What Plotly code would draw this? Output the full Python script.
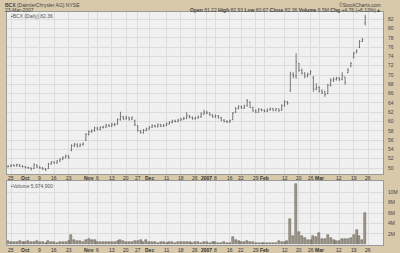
import plotly.graph_objects as go

# ---------------- data (trading-day index: Sep 22 2006 = -1 ... Mar 23 2007 = 123)
day_index = list(range(-1, 124))

opens = [50.3, 50.4, 50.6, 50.5, 50.7, 50.4, 50.3, 50.1, 50.0, 49.9,
         50.6, 50.2, 50.0, 49.8, 49.9, 50.9, 51.3, 51.1, 51.5, 51.9,
         52.3, 52.6, 53.8, 54.8, 55.1, 54.7, 55.0, 56.0, 57.2, 57.8,
         58.0, 58.6, 58.3, 58.7, 58.8, 59.2, 59.0, 59.4, 59.5, 60.4,
         61.0, 60.6, 60.9, 60.5, 60.2, 59.1, 58.0, 57.6, 58.1, 58.4,
         58.8, 59.1, 58.9, 59.3, 59.0, 59.2, 59.5, 59.8, 60.1, 60.0,
         60.3, 60.5, 60.7, 61.2, 60.9, 60.6, 60.8, 61.0, 61.6, 62.0,
         61.8, 61.4, 61.0, 61.2, 60.8, 60.3, 60.0, 59.9, 60.4, 62.0,
         62.8, 63.2, 62.9, 63.4, 64.2, 63.0, 62.3, 62.0, 62.6, 62.4,
         62.2, 62.5, 62.8, 62.4, 62.7, 62.5, 63.4, 64.2, 66.6, 70.2,
         69.8, 72.5, 71.0, 70.4, 69.8, 70.2, 69.4, 67.0, 67.3, 66.6,
         66.4, 66.0, 67.8, 68.9, 69.1, 69.3, 69.0, 69.6, 70.5, 71.8,
         73.7, 74.8, 75.9, 77.2, 81.22]
highs = [50.6, 50.8, 50.8, 50.9, 50.8, 50.6, 50.4, 50.3, 50.1, 51.0,
         50.8, 50.4, 50.2, 50.0, 51.1, 51.5, 51.4, 51.7, 52.1, 52.5,
         52.9, 52.8, 55.1, 55.4, 55.3, 55.3, 55.5, 57.5, 58.1, 58.3,
         58.9, 58.8, 59.0, 59.1, 59.5, 59.4, 59.7, 59.7, 60.7, 62.1,
         61.2, 61.2, 61.0, 61.1, 60.4, 59.2, 58.2, 58.4, 58.7, 59.0,
         59.4, 59.3, 59.6, 59.5, 59.5, 59.8, 60.1, 60.4, 60.4, 60.6,
         60.8, 61.0, 62.0, 61.4, 61.1, 61.0, 61.3, 62.0, 62.5, 62.3,
         62.0, 61.6, 61.5, 61.4, 61.0, 60.5, 60.3, 60.4, 62.0, 63.1,
         63.5, 63.4, 63.6, 64.8, 64.3, 63.2, 62.6, 62.9, 62.8, 62.6,
         62.8, 63.0, 62.9, 62.9, 62.8, 63.7, 64.6, 64.4, 70.7, 70.6,
         74.7, 72.6, 71.4, 70.6, 70.5, 71.0, 69.8, 68.2, 67.6, 66.9,
         66.6, 68.1, 69.3, 69.5, 69.6, 69.6, 70.6, 69.6, 71.5, 72.8,
         75.0, 75.5, 77.5, 78.0, 82.93]
lows = [50.1, 50.2, 50.3, 50.3, 50.2, 50.1, 49.9, 49.8, 49.5, 49.8,
        50.0, 49.8, 49.6, 49.4, 49.8, 50.7, 50.9, 50.9, 51.3, 51.7,
        52.1, 52.0, 53.6, 54.5, 54.4, 54.5, 54.8, 55.8, 57.0, 57.6,
        57.8, 58.1, 58.1, 58.5, 58.6, 58.8, 58.8, 59.0, 59.3, 60.2,
        60.3, 60.4, 60.2, 60.3, 59.0, 57.8, 57.4, 57.4, 57.9, 58.2,
        58.6, 58.7, 58.7, 58.8, 58.8, 59.0, 59.3, 59.6, 59.8, 59.8,
        60.1, 60.3, 60.5, 60.7, 60.4, 60.4, 60.6, 60.8, 61.4, 61.6,
        61.2, 60.8, 60.8, 60.6, 60.1, 59.8, 59.7, 59.7, 60.3, 61.8,
        62.6, 62.7, 62.7, 63.2, 62.9, 62.1, 61.8, 61.9, 62.2, 62.0,
        62.0, 62.3, 62.2, 62.2, 62.1, 62.3, 63.2, 63.6, 66.4, 69.3,
        69.2, 70.7, 70.1, 69.3, 69.5, 70.0, 66.4, 66.7, 66.2, 65.9,
        65.3, 65.9, 67.5, 68.5, 68.8, 68.7, 68.9, 67.9, 70.4, 71.7,
        73.6, 74.7, 75.8, 77.1, 80.67]
closes = [50.4, 50.6, 50.5, 50.7, 50.4, 50.3, 50.1, 50.0, 49.8, 50.7,
          50.2, 50.0, 49.8, 49.6, 50.9, 51.3, 51.1, 51.5, 51.9, 52.3,
          52.6, 52.2, 54.8, 55.1, 54.7, 55.0, 55.2, 57.2, 57.8, 58.0,
          58.6, 58.3, 58.7, 58.8, 59.2, 59.0, 59.4, 59.3, 60.4, 61.0,
          60.6, 60.9, 60.5, 60.8, 59.3, 58.0, 57.6, 58.1, 58.4, 58.8,
          59.1, 58.9, 59.3, 59.0, 59.2, 59.5, 59.8, 60.1, 60.0, 60.3,
          60.5, 60.7, 61.2, 60.9, 60.6, 60.8, 61.0, 61.6, 62.0, 61.8,
          61.4, 61.0, 61.2, 60.8, 60.3, 60.0, 59.9, 60.2, 61.8, 62.8,
          63.2, 62.9, 63.3, 64.5, 63.0, 62.3, 62.0, 62.6, 62.4, 62.2,
          62.5, 62.8, 62.4, 62.7, 62.3, 63.4, 64.2, 63.9, 70.2, 69.8,
          72.8, 71.0, 70.4, 69.8, 70.2, 70.7, 67.0, 67.3, 66.6, 66.2,
          65.8, 67.8, 68.9, 69.1, 69.3, 69.0, 69.8, 68.4, 71.0, 72.5,
          74.6, 75.2, 77.2, 77.6, 82.36]
volumes_m = [0.6, 0.5, 0.5, 0.4, 0.6, 0.5, 0.5, 0.6, 0.4, 0.5,
             0.6, 0.5, 0.4, 0.3, 0.7, 0.5, 0.4, 0.3, 0.5, 0.4,
             0.5, 0.6, 1.8, 0.9, 0.6, 0.6, 0.5, 0.9, 1.0, 0.9,
             0.8, 0.5, 0.4, 0.4, 0.5, 0.4, 0.5, 0.4, 0.7, 0.8,
             0.6, 0.5, 0.4, 0.4, 0.6, 0.7, 0.8, 0.5, 0.8, 0.5,
             0.4, 0.4, 0.3, 0.4, 0.4, 0.3, 0.4, 0.4, 0.3, 0.4,
             0.4, 0.4, 0.5, 0.4, 0.3, 0.4, 0.4, 0.3, 0.4, 0.4,
             0.3, 0.5, 0.4, 0.3, 0.3, 0.4, 0.3, 0.3, 1.5, 0.9,
             0.7, 0.4, 0.5, 0.7, 0.5, 0.5, 0.3, 0.2, 0.3, 0.3,
             0.2, 0.3, 0.3, 0.2, 0.7, 0.5, 0.5, 0.6, 4.9, 1.7,
             11.6, 2.3, 1.7, 1.3, 0.9, 0.9, 1.7, 1.5, 2.1, 1.1,
             1.1, 1.9, 1.2, 0.9, 0.6, 0.7, 1.1, 1.1, 1.1, 1.2,
             1.8, 2.7, 1.6, 0.9, 6.0]

date_tick_index = [0, 5, 10, 15, 20, 27, 30, 35, 40, 44, 48, 54, 59, 64,
                   68, 71, 76, 80, 85, 88, 95, 100, 104, 107, 114, 119, 124]
date_tick_text = ["25", "Oct", "9", "16", "23", "Nov", "6", "13", "20", "27",
                  "Dec", "11", "18", "26", "2007", "8", "16", "22", "29", "Feb",
                  "12", "20", "26", "Mar", "12", "19", "26"]
bold_ticks = {"Oct", "Nov", "Dec", "2007", "Feb", "Mar"}

price_ticks = list(range(50, 84, 2))
vol_ticks = [2, 4, 6, 8, 10]
vol_tick_text = ["2M", "4M", "6M", "8M", "10M"]

# ---------------- style
W, H = 400, 253
TAN = "#d8c9ab"
PANEL = "#f0f0f0"
GRID = "#dcdcdc"
BORDER = "#9a9a9a"
FONT = "Liberation Sans"

def py(px):
    return 1 - px / H

def pxx(px):
    return px / W

x_range = [-1.39, 129.17]

fig = go.Figure()
fig.add_trace(go.Ohlc(
    x=day_index, open=opens, high=highs, low=lows, close=closes,
    increasing=dict(line=dict(color="#5a5a5a", width=0.8)),
    decreasing=dict(line=dict(color="#5a5a5a", width=0.8)),
    tickwidth=0.3, xaxis="x", yaxis="y", showlegend=False, hoverinfo="skip"))
fig.add_trace(go.Bar(
    x=day_index, y=volumes_m, width=0.7,
    marker=dict(color="#a39b8a", line=dict(color="#5a554d", width=0.5)),
    xaxis="x2", yaxis="y2", showlegend=False, hoverinfo="skip"))

axis_common = dict(showline=True, linecolor=BORDER, linewidth=1, mirror=True,
                   showgrid=True, gridcolor=GRID, gridwidth=1, zeroline=False,
                   ticks="")
fig.update_layout(
    width=W, height=H, margin=dict(l=0, r=0, t=0, b=0),
    paper_bgcolor=TAN, plot_bgcolor=PANEL,
    font=dict(family=FONT, size=5, color="#333333"),
    bargap=0,
    xaxis=dict(domain=[pxx(7), pxx(383)], range=x_range, anchor="y",
               tickvals=date_tick_index, showticklabels=False,
               rangeslider=dict(visible=False), **axis_common),
    yaxis=dict(domain=[py(174), py(12)], range=[48.71, 83.55], side="right",
               tickvals=price_ticks, ticktext=[str(v) for v in price_ticks],
               tickfont=dict(size=5, color="#444444"), ticklabelstandoff=3,
               anchor="x", **axis_common),
    xaxis2=dict(domain=[pxx(7), pxx(383)], range=x_range, anchor="y2",
                tickvals=date_tick_index, showticklabels=False, **axis_common),
    yaxis2=dict(domain=[py(245), py(181)], range=[-0.1, 12.1], side="right",
                tickvals=vol_ticks, ticktext=vol_tick_text,
                tickfont=dict(size=5, color="#444444"), ticklabelstandoff=3,
                anchor="x2", **axis_common),
)

ann = []
for band_y in (177.6, 249.5):
    for xi, t in zip(date_tick_index, date_tick_text):
        ann.append(dict(x=xi, xref="x", y=py(band_y), yref="paper",
                        text=f"<b>{t}</b>" if t in bold_ticks else t,
                        showarrow=False, xanchor="center", yanchor="middle",
                        font=dict(size=5, color="#333333")))

ann += [
    dict(x=pxx(3), y=py(4.5), text="<b>BCX</b> (DaimlerChrysler AG) NYSE",
         xref="paper", yref="paper", xanchor="left", yanchor="middle",
         showarrow=False, font=dict(size=5, color="#444444")),
    dict(x=pxx(3), y=py(10), text="23-Mar-2007",
         xref="paper", yref="paper", xanchor="left", yanchor="middle",
         showarrow=False, font=dict(size=5, color="#444444")),
    dict(x=pxx(383), y=py(4.5), text="©StockCharts.com",
         xref="paper", yref="paper", xanchor="right", yanchor="middle",
         showarrow=False, font=dict(size=5, color="#444444")),
    dict(x=pxx(383), y=py(10),
         text="<b>Open</b> 81.22 <b>High</b> 82.93 <b>Low</b> 80.67 "
              "<b>Close</b> 82.36 <b>Volume</b> 6.5M <b>Chg</b> +4.76 (+6.13%)▲",
         xref="paper", yref="paper", xanchor="right", yanchor="middle",
         showarrow=False, font=dict(size=5, color="#444444")),
    dict(x=pxx(9), y=py(16), text="▪BCX (Daily) 82.36",
         xref="paper", yref="paper", xanchor="left", yanchor="middle",
         showarrow=False, font=dict(size=5, color="#555555")),
    dict(x=pxx(9), y=py(186), text="▪Volume 5,974,900",
         xref="paper", yref="paper", xanchor="left", yanchor="middle",
         showarrow=False, font=dict(size=5, color="#555555")),
]
fig.update_layout(annotations=ann)

fig.write_html("out.html")
